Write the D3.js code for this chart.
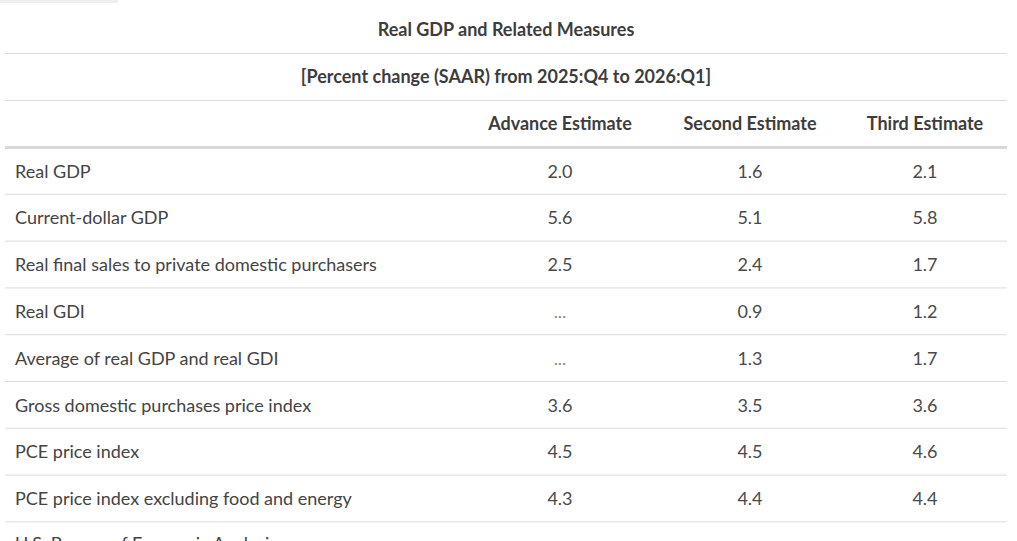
<!DOCTYPE html>
<html>
<head>
<meta charset="utf-8">
<script src="https://cdn.jsdelivr.net/npm/d3@7"></script>
<style>
  html, body { margin: 0; padding: 0; background: #fff; }
  svg { display: block; font-family: Lato, "Open Sans", sans-serif; }
</style>
</head>
<body>
<div id="chart"></div>
<script>
// Real GDP and Related Measures, 2025:Q4 -> 2026:Q1
const TITLE = "Real GDP and Related Measures";
const SUBTITLE = "[Percent change (SAAR) from 2025:Q4 to 2026:Q1]";
const COLUMNS = ["Advance Estimate", "Second Estimate", "Third Estimate"];
const MEASURES = [
  "Real GDP",
  "Current-dollar GDP",
  "Real final sales to private domestic purchasers",
  "Real GDI",
  "Average of real GDP and real GDI",
  "Gross domestic purchases price index",
  "PCE price index",
  "PCE price index excluding food and energy",
];
// null = not available ("...")
const ADVANCE = [2.0, 5.6, 2.5, null, null, 3.6, 4.5, 4.3];
const SECOND  = [1.6, 5.1, 2.4, 0.9, 1.3, 3.5, 4.5, 4.4];
const THIRD   = [2.1, 5.8, 1.7, 1.2, 1.7, 3.6, 4.6, 4.4];
const SOURCE = "U.S. Bureau of Economic Analysis";

const W = 1017, H = 541;
const L = 5, R = 1007;
const FS = 18;

const svg = d3.select("#chart").append("svg")
  .attr("width", W).attr("height", H).attr("viewBox", `0 0 ${W} ${H}`);

// faint tab remnant top-left
svg.append("rect").attr("x", 0).attr("y", 0).attr("width", 118).attr("height", 3).attr("fill", "#eeeeee");

// header block
svg.append("text").attr("x", (L + R) / 2).attr("y", 30).attr("dy", "0.35em")
  .attr("text-anchor", "middle").attr("font-size", FS).attr("font-weight", 700)
  .attr("fill", "#3d3d3d").text(TITLE);
svg.append("line").attr("x1", L).attr("x2", R).attr("y1", 53.5).attr("y2", 53.5)
  .attr("stroke", "#dcdcdc").attr("stroke-width", 1);
svg.append("text").attr("x", (L + R) / 2).attr("y", 77).attr("dy", "0.35em")
  .attr("text-anchor", "middle").attr("font-size", FS).attr("font-weight", 700)
  .attr("fill", "#3d3d3d").text(SUBTITLE);
svg.append("line").attr("x1", L).attr("x2", R).attr("y1", 100.5).attr("y2", 100.5)
  .attr("stroke", "#dcdcdc").attr("stroke-width", 1);

// columns
const x = d3.scaleOrdinal().domain(COLUMNS).range([560, 750, 925]);
svg.append("g").selectAll("text").data(COLUMNS).join("text")
  .attr("x", d => x(d)).attr("y", 124).attr("dy", "0.35em")
  .attr("text-anchor", "middle").attr("font-size", FS).attr("font-weight", 700)
  .attr("fill", "#3d3d3d").text(d => d);
svg.append("line").attr("x1", L).attr("x2", R).attr("y1", 147.5).attr("y2", 147.5)
  .attr("stroke", "#d9d9d9").attr("stroke-width", 3);

// rows
const y = d3.scaleBand().domain(MEASURES).range([148, 148 + 46.8 * MEASURES.length]);
const rows = svg.append("g").selectAll("g").data(MEASURES).join("g")
  .attr("transform", d => `translate(0,${y(d)})`);

rows.append("text").attr("x", 15).attr("y", y.bandwidth() / 2).attr("dy", "0.35em")
  .attr("font-size", FS).attr("fill", "#444").text(d => d);

rows.append("line").attr("x1", L).attr("x2", R)
  .attr("y1", y.bandwidth() - 0.5).attr("y2", y.bandwidth() - 0.5)
  .attr("stroke", "#dcdcdc").attr("stroke-width", 1);

const SERIES = [ADVANCE, SECOND, THIRD];
const fmt = d3.format(".1f");
rows.each(function (d, i) {
  d3.select(this).selectAll("text.val").data(COLUMNS).join("text")
    .attr("class", "val")
    .attr("x", c => x(c)).attr("y", y.bandwidth() / 2).attr("dy", "0.35em")
    .attr("text-anchor", "middle").attr("font-size", FS)
    .attr("fill", (c, j) => SERIES[j][i] == null ? "#8a8a8a" : "#4a4a4a")
    .text((c, j) => SERIES[j][i] == null ? "..." : fmt(SERIES[j][i]));
});

// source line (cut off at the bottom edge, as in the reference)
svg.append("text").attr("x", 15).attr("y", 550)
  .attr("font-size", FS).attr("fill", "#444").text(SOURCE);
</script>
</body>
</html>
